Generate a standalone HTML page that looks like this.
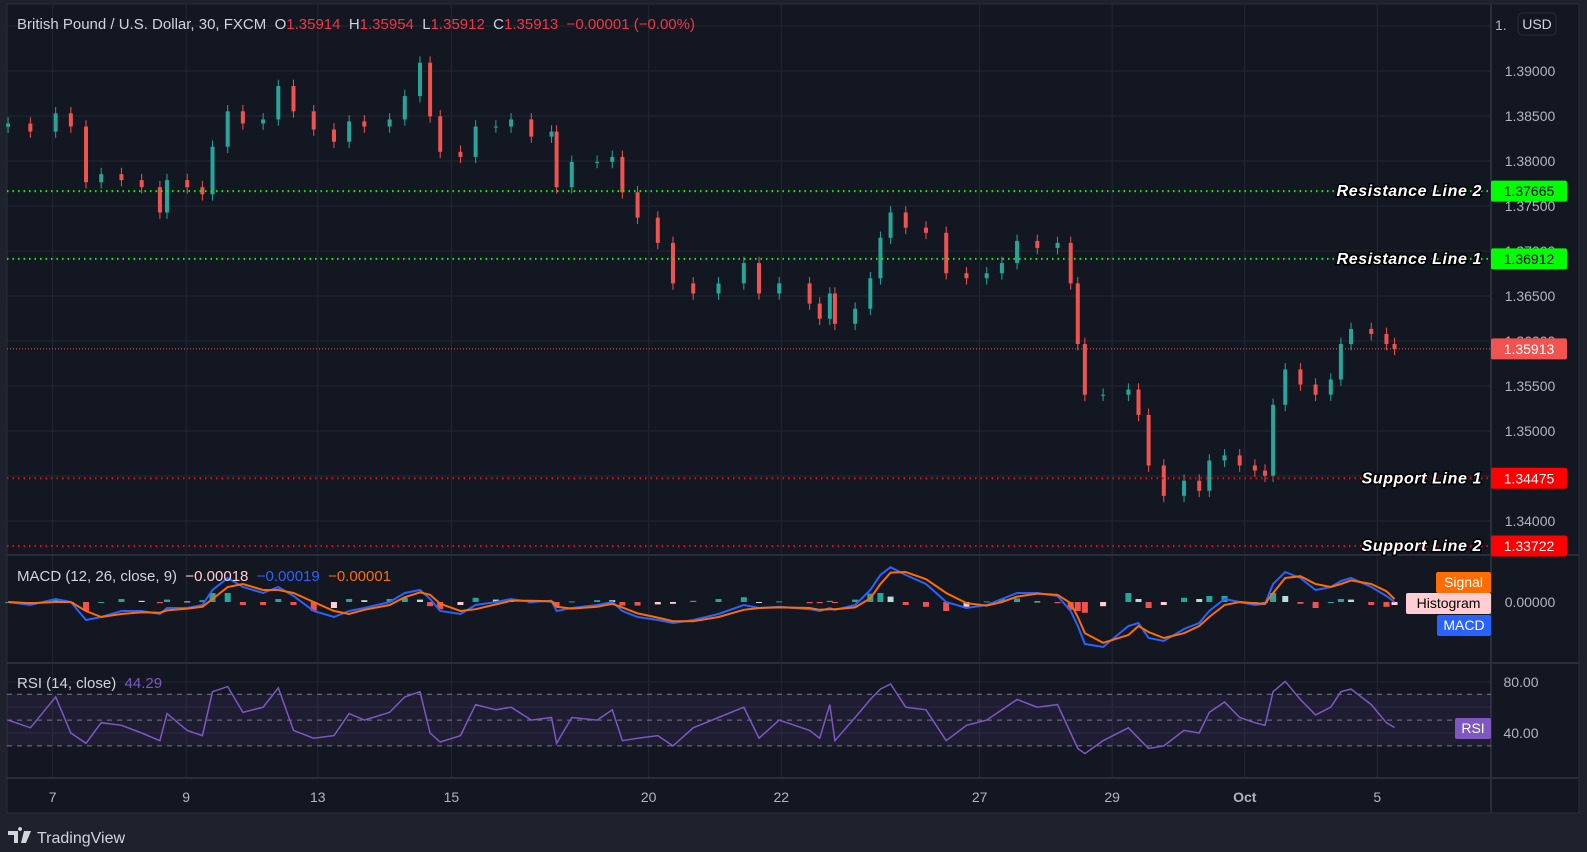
<!DOCTYPE html>
<html><head><meta charset="utf-8">
<style>
html,body{margin:0;padding:0;background:#1e222d;width:1587px;height:852px;overflow:hidden;font-family:"Liberation Sans",sans-serif;}
svg{display:block}
</style></head>
<body>
<svg id="chart" width="1587" height="852" xmlns="http://www.w3.org/2000/svg"></svg>
<script>
const times=[8,30,55,70,85,100,120,140,158,165,185,200,210,225,240,260,275,290,310,330,345,360,385,400,415,425,435,455,470,490,505,525,545,550,565,590,605,615,630,650,665,685,710,735,750,770,800,810,820,825,845,860,870,880,895,915,935,955,975,990,1005,1025,1045,1058,1065,1072,1090,1115,1125,1135,1150,1170,1185,1195,1210,1225,1240,1250,1258,1270,1285,1300,1315,1325,1335,1355,1370,1378];
const closes=[1.38417,1.38327,1.3853,1.38383,1.37764,1.37854,1.37788,1.37709,1.37428,1.37788,1.37709,1.3763,1.38159,1.38552,1.38417,1.38462,1.38833,1.38552,1.3835,1.38214,1.3844,1.38383,1.38462,1.38721,1.39092,1.38496,1.38102,1.38046,1.38383,1.38383,1.38462,1.38271,1.38327,1.37709,1.3799,1.3799,1.38046,1.37652,1.37371,1.3709,1.3664,1.36528,1.3664,1.36866,1.36528,1.3664,1.36416,1.36247,1.36528,1.36191,1.36359,1.36697,1.37147,1.37428,1.37259,1.37202,1.36753,1.36697,1.36753,1.36866,1.37112,1.37034,1.3709,1.3664,1.35966,1.35403,1.35403,1.3546,1.35179,1.34617,1.34279,1.34448,1.34336,1.34672,1.34729,1.34617,1.3456,1.34504,1.35291,1.35684,1.35516,1.35403,1.35572,1.35966,1.36134,1.36078,1.35966,1.35913];
const macdVals=[0,-0.5,0.5,0,-3,-2.5,-1.5,-1.5,-2,-1,-1,-0.5,2,4,2.5,1.5,2.5,1,-1.5,-2.5,-1.5,-1,0,1.5,2,0.5,-1.5,-2,-0.5,0,0.5,0,0.2,-1.5,-1,-0.5,0,-1.5,-2.5,-3,-3.5,-3,-2,-0.5,-1,-0.8,-1.2,-1.5,-1,-1.3,-0.5,2,4.5,5.8,4.5,3,0,-1,-0.5,0.5,1.5,1.5,1,-1.5,-4,-7,-7.5,-4,-3.5,-6,-6.5,-4.5,-3.5,-1.5,0.5,0,-0.5,-0.3,3,5,4,2,2.5,3.5,4,2.5,1,0];
const signalVals=[0,-0.2,0,0,-1.5,-2.5,-2,-1.7,-1.8,-1.4,-1.1,-0.8,0.5,2.5,3,2,2,1.5,0,-1.5,-2,-1.3,-0.5,0.8,1.6,1.2,-0.3,-1.5,-1.2,-0.4,0.2,0.2,0.1,-0.8,-1.1,-0.8,-0.3,-0.9,-1.9,-2.6,-3.2,-3.2,-2.5,-1.3,-1,-0.9,-1,-1.3,-1.2,-1.2,-0.9,0.6,3,4.9,5,3.8,1.5,-0.2,-0.6,0,0.9,1.4,1.2,-0.2,-2.5,-5.2,-6.8,-5.5,-4,-5,-6,-5.2,-4,-2.5,-0.5,0,-0.2,-0.3,1.5,4,4.3,3,2.5,3,3.6,3,1.8,0.5];
const rsiVals=[50,44,68,40,32,48,46,40,34,55,42,38,72,76,56,60,75,42,36,38,55,50,56,68,72,40,33,38,62,58,60,50,52,32,52,50,58,34,36,38,30,44,52,60,36,50,42,36,62,34,52,66,74,78,60,58,34,46,50,58,66,60,62,40,28,24,34,44,36,28,30,42,40,56,64,52,48,46,72,80,66,54,60,72,74,62,48,44.29];
const priceTicks=[1.39,1.385,1.38,1.375,1.37,1.365,1.36,1.355,1.35,1.345,1.34];
const timeTickLabels=["7","9","13","15","20","22","27","29","Oct","5"];
const timeTickBars=[52,184,314,446,641,772,968,1099,1230,1361];
const levelNames=["Resistance Line 2","Resistance Line 1","Support Line 1","Support Line 2"];
const levelPrices=[1.37665,1.36912,1.34475,1.33722];
const lastPrice=1.35913;

const NS="http://www.w3.org/2000/svg";
const svg=document.getElementById('chart');
function el(tag,attrs,parent,text){const e=document.createElementNS(NS,tag);for(const k in attrs)e.setAttribute(k,attrs[k]);if(text!==undefined)e.textContent=text;(parent||svg).appendChild(e);return e;}
const X=t=>t*1.012;
const Y=p=>71+(1.39-p)*9000;
const MY=v=>602-v*6;
const RY=v=>733-(v-40)*1.29;
const BG="#131722",GRID="#232733",BORDER="#2a2e39",TXT="#b2b5be";

let r=el('rect',{x:7,y:4,width:1572,height:809,fill:BG,stroke:BORDER});

priceTicks.concat([1.395]).forEach(p=>{el('line',{x1:7,x2:1491,y1:Y(p),y2:Y(p),stroke:GRID});});
[682,707,733].forEach(y=>el('line',{x1:7,x2:1491,y1:y,y2:y,stroke:GRID}));
timeTickBars.forEach(t=>el('line',{x1:X(t),x2:X(t),y1:4,y2:778,stroke:GRID}));
[555,663,778].forEach(y=>el('line',{x1:7,x2:1579,y1:y,y2:y,stroke:BORDER,'stroke-width':2}));
el('line',{x1:1491,x2:1491,y1:4,y2:813,stroke:BORDER,'stroke-width':2});

priceTicks.forEach(p=>{const t=el('text',{x:1530,y:Y(p)+5,fill:TXT,'font-size':14,'text-anchor':'middle'},null,p.toFixed(5));
});
el('text',{x:1495,y:30,fill:TXT,'font-size':14},null,'1.');
let usd=el('rect',{x:1518,y:13,width:38,height:22,rx:4,fill:BG,stroke:BORDER});

el('text',{x:1537,y:29,fill:'#d1d4dc','font-size':14,'text-anchor':'middle'},null,'USD');

const g=el('g',{});
closes.forEach((c,i)=>{
  const o=i===0?1.3838:closes[i-1];
  const up=c>=o, col=up?"#26a69a":"#ef5350";
  const hi=Math.max(o,c)+0.0007, lo=Math.min(o,c)-0.0007;
  const x=X(times[i]);
  el('line',{x1:x,x2:x,y1:Y(hi),y2:Y(lo),stroke:col,'stroke-width':1},g);
  const b=el('rect',{x:x-2,y:Y(Math.max(o,c)),width:4,height:Math.max(1,Math.abs(Y(o)-Y(c))),fill:col},g);
  
});

levelPrices.forEach((p,i)=>{
  const green=i<2, col=green?"#00ff00":"#ff0000";
  const ln=el('line',{x1:7,x2:1491,y1:Y(p),y2:Y(p),stroke:col,'stroke-width':2,'stroke-dasharray':'1.5 4'});
  
  const lb=el('text',{x:1482,y:Y(p)+5,fill:'#fff',stroke:'#000','stroke-width':3,'paint-order':'stroke','font-size':16,'letter-spacing':0.6,'font-weight':'bold','font-style':'italic','text-anchor':'end'},null,levelNames[i]);
  
  const tg=el('rect',{x:1491,y:Y(p)-10.5,width:76,height:21,rx:2,fill:col});
  
  el('text',{x:1529,y:Y(p)+5,fill:green?'#000':'#fff','font-size':14,'text-anchor':'middle'},null,p.toFixed(5));
});
el('line',{x1:7,x2:1491,y1:Y(lastPrice),y2:Y(lastPrice),stroke:'#f05350','stroke-width':1,'stroke-dasharray':'1 2'});
let lp=el('rect',{x:1491,y:Y(lastPrice)-10.5,width:76,height:21,rx:2,fill:'#f05350'});

el('text',{x:1529,y:Y(lastPrice)+5,fill:'#fff','font-size':14,'text-anchor':'middle'},null,lastPrice.toFixed(5));

const hd=el('text',{x:17,y:29,'font-size':15,fill:'#d1d4dc'});

[["British Pound / U.S. Dollar, 30, FXCM  O","#d1d4dc"],["1.35914","#f23645"],["  H","#d1d4dc"],["1.35954","#f23645"],["  L","#d1d4dc"],["1.35912","#f23645"],["  C","#d1d4dc"],["1.35913  −0.00001 (−0.00%)","#f23645"]].forEach(s=>el('tspan',{fill:s[1]},hd,s[0]));
hd.setAttribute('style','white-space:pre');

const mg=el('g',{});
macdVals.forEach((m,i)=>{const h=m-signalVals[i];const x=X(times[i]);
  const col=h>=0?(i>0&&h<macdVals[i-1]-signalVals[i-1]?"#b2dfdb":"#26a69a"):(i>0&&h>macdVals[i-1]-signalVals[i-1]?"#ffcdd2":"#ef5350");
  const b=el('rect',{x:x-3,y:Math.min(MY(h),602),width:6,height:Math.max(1,Math.abs(MY(h)-602)),fill:col},mg);
  });
const path=(vals,f)=>vals.map((v,i)=>(i?'L':'M')+X(times[i]).toFixed(1)+' '+f(v).toFixed(1)).join(' ');
let ml=el('path',{d:path(macdVals,MY),fill:'none',stroke:'#2962ff','stroke-width':2},mg);

let sl=el('path',{d:path(signalVals,MY),fill:'none',stroke:'#ff6d00','stroke-width':2},mg);

const mt=el('text',{x:17,y:581,'font-size':15,fill:'#d1d4dc'});

el('tspan',{},mt,'MACD (12, 26, close, 9)  ');el('tspan',{fill:'#ffcdd2'},mt,'−0.00018  ');el('tspan',{fill:'#2962ff'},mt,'−0.00019  ');el('tspan',{fill:'#ff6d00'},mt,'−0.00001');
mt.setAttribute('style','white-space:pre');
el('text',{x:1530,y:607,fill:TXT,'font-size':14,'text-anchor':'middle'},null,'0.00000');
[["Signal",1436,572,"#ff6d00","#fff"],["Histogram",1406,593,"#ffcdd2","#000"],["MACD",1437,615,"#2962ff","#fff"]].forEach(b=>{
  const rr=el('rect',{x:b[1],y:b[2],width:1491-b[1],height:21,rx:2,fill:b[3]});
  
  el('text',{x:(b[1]+1491)/2,y:b[2]+15,fill:b[4],'font-size':14,'text-anchor':'middle'},null,b[0]);});

const rg=el('g',{});
el('rect',{x:7,y:RY(70),width:1484,height:RY(30)-RY(70),fill:'#7e57c2','fill-opacity':0.1},rg);
[70,50,30].forEach(v=>el('line',{x1:7,x2:1491,y1:RY(v),y2:RY(v),stroke:'#787b86','stroke-dasharray':'5 5'},rg));
let rl=el('path',{d:path(rsiVals,RY),fill:'none',stroke:'#7e57c2','stroke-width':1.5},rg);

const rt=el('text',{x:17,y:688,'font-size':15,fill:'#d1d4dc'});

el('tspan',{},rt,'RSI (14, close)  ');el('tspan',{fill:'#7e57c2'},rt,'44.29');rt.setAttribute('style','white-space:pre');
el('text',{x:1521,y:687,fill:TXT,'font-size':14,'text-anchor':'middle'},null,'80.00');
el('text',{x:1521,y:738,fill:TXT,'font-size':14,'text-anchor':'middle'},null,'40.00');
let rb=el('rect',{x:1455,y:718,width:36,height:21,rx:2,fill:'#7e57c2'});

el('text',{x:1473,y:733,fill:'#fff','font-size':14,'text-anchor':'middle'},null,'RSI');

timeTickLabels.forEach((s,i)=>{const tt=el('text',{x:X(timeTickBars[i]),y:802,fill:TXT,'font-size':14,'text-anchor':'middle','font-weight':s==='Oct'?'bold':'normal'},null,s);
  });

const lg=el('g',{});
el('path',{d:'M8 831 H18 V843 H14 V835 H8 Z M20 831 a2 2 0 1 1 0.1 0 Z M24 831 H31 L26 843 H21 Z',fill:'#d1d4dc'},lg);
el('text',{x:37,y:843,fill:'#d1d4dc','font-size':16},lg,'TradingView');
</script>
</body></html>
